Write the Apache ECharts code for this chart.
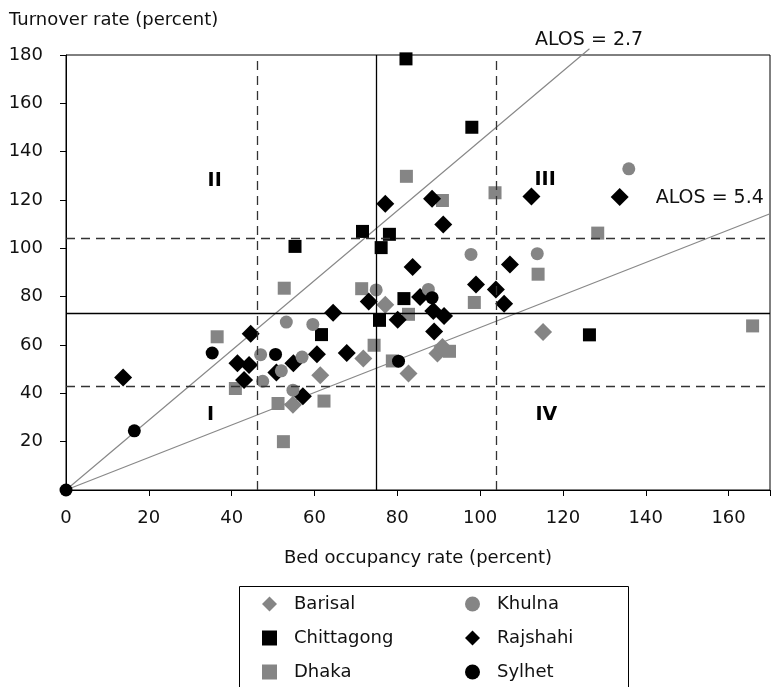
<!DOCTYPE html>
<html>
<head>
<meta charset="utf-8">
<script src="https://cdn.jsdelivr.net/npm/echarts@6/dist/echarts.min.js"></script>
<style>html,body{margin:0;padding:0;background:#fff}#c{width:773px;height:687px}</style>
</head>
<body>
<div id="c"></div>
<script>
// ---- data (bed occupancy %, turnover %) ----
const barisal = [[54.8,35.3],[61.4,47.5],[71.8,54.4],[77.1,76.7],[82.7,48.2],[89.7,56.5],[90.9,59.2],[115.2,65.4]];
const chittagong = [[55.3,100.8],[61.7,64.3],[71.6,107],[75.7,70.2],[76.1,100.3],[78.1,105.8],[81.6,79.2],[82.1,178.4],[98,150.1],[126.4,64.2]];
const dhaka = [[36.5,63.4],[40.9,42],[51.2,35.8],[52.5,20],[52.7,83.5],[62.3,36.8],[71.4,83.3],[74.4,59.9],[78.8,53.4],[82.2,129.8],[82.7,72.7],[90.9,119.8],[92.6,57.4],[98.6,77.6],[103.6,123],[114,89.3],[128.4,106.3],[165.8,67.9]];
const khulna = [[47,56],[47.5,45],[52,49.3],[53.2,69.5],[54.8,41.3],[57,55],[59.6,68.5],[74.9,82.8],[87.5,83],[97.8,97.5],[113.8,97.8],[135.9,132.9]];
const rajshahi = [[13.8,46.6],[41.4,52.4],[43,45.5],[44.2,51.7],[44.6,64.7],[50.8,48.6],[54.9,52.4],[57.2,38.8],[60.6,56.2],[64.5,73.3],[67.8,56.7],[73.1,78],[77.1,118.5],[80.1,70.5],[83.7,92.3],[85.5,79.9],[88.4,120.5],[88.7,74.1],[88.9,65.6],[91.1,109.9],[91.3,72],[99,85],[103.8,83],[105.8,77.1],[107.2,93.3],[112.4,121.5],[133.7,121.2]];
const sylhet = [[0,0],[16.5,24.5],[35.3,56.7],[50.6,56.1],[80.3,53.3],[88.4,79.6]];

// reference lines
const occupancyCuts = [46.3, 74.9, 103.8];   // dashed, solid, dashed
const turnoverCuts = [42.8, 73.3, 104.3];
const alos27 = [[0,0],[126.4,182.6]];
const alos54 = [[0,0],[170,114.3]];

const xTickLabels = [0,20,40,60,80,100,120,140,160];
const yTickLabels = [20,40,60,80,100,120,140,160,180];

const quadrantLabels = [['I',34.9,31],['II',35.9,128],['III',115.7,128.4],['IV',116,31]];
const alosLabels = [['ALOS = 2.7',126.3,186,'center'],['ALOS = 5.4',142.4,120.7,'left']];

const FONT = 'DejaVu Sans';
const GRAY = '#858585';
const TXT = '#111';

const chart = echarts.init(document.getElementById('c'));

function cutLine(v, axis, idx){
  const solid = idx === 1;
  const d = {};
  d[axis] = v;
  d.lineStyle = solid ? {color:'#000', width:1.3, type:'solid'} : {color:'#333', width:1.3, type:[9,6]};
  return d;
}

const markData = [];
occupancyCuts.forEach((v,i)=>markData.push(cutLine(v,'xAxis',i)));
turnoverCuts.forEach((v,i)=>markData.push(cutLine(v,'yAxis',i)));

function scat(name, data, symbol, size, color, z){
  return {name, type:'scatter', data, symbol, symbolSize:size, clip:false, z:z,
    itemStyle:{color, opacity:1}, emphasis:{disabled:true}};
}

const option = {
  animation:false,
  textStyle:{fontFamily:FONT},
  title:{text:'Turnover rate (percent)', left:4, top:6,
    textStyle:{fontSize:18, fontWeight:'normal', color:TXT, fontFamily:FONT}},
  grid:{left:66, top:55, width:706, height:435, show:true, borderColor:'#000', borderWidth:1},
  xAxis:{type:'value', min:0, max:170, interval:20,
    name:'Bed occupancy rate (percent)', nameLocation:'middle', nameGap:59,
    nameTextStyle:{fontSize:18, color:TXT, fontFamily:FONT},
    axisLine:{show:true, onZero:false, lineStyle:{color:'#000', width:1}},
    axisTick:{show:true, length:6, lineStyle:{color:'#000'}},
    axisLabel:{fontSize:18, color:TXT, margin:19, fontFamily:FONT,
      formatter:v=> xTickLabels.includes(v) ? String(v) : ''},
    splitLine:{show:false}},
  yAxis:{type:'value', min:0, max:180, interval:20,
    axisLine:{show:true, onZero:false, lineStyle:{color:'#000', width:1}},
    axisTick:{show:true, length:6, lineStyle:{color:'#000'}},
    axisLabel:{fontSize:18, color:TXT, margin:23, fontFamily:FONT,
      formatter:v=> yTickLabels.includes(v) ? String(v) : ''},
    splitLine:{show:false}},
  legend:{orient:'horizontal', left:262, top:594, width:420, itemGap:14, itemWidth:15, itemHeight:15,
    selectedMode:false, padding:0,
    textStyle:{fontSize:18, color:TXT, fontFamily:FONT, lineHeight:20, width:157, padding:[0,0,0,12]},
    data:[{name:'Barisal',icon:'diamond'},{name:'Khulna',icon:'circle'},
          {name:'Chittagong',icon:'rect'},{name:'Rajshahi',icon:'diamond'},
          {name:'Dhaka',icon:'rect'},{name:'Sylhet',icon:'circle'}]},
  series:[
    {name:'quadrants', type:'line', data:[], silent:true, z:1,
      markLine:{silent:true, symbol:['none','none'], label:{show:false}, animation:false, data:markData}},
    {name:'ALOS 2.7', type:'line', data:alos27, showSymbol:false, symbol:'none', clip:false, silent:true, z:2,
      lineStyle:{color:'#888', width:1.2}},
    {name:'ALOS 5.4', type:'line', data:alos54, showSymbol:false, symbol:'none', clip:false, silent:true, z:2,
      lineStyle:{color:'#888', width:1.2}},
    scat('Barisal', barisal, 'diamond', 18, GRAY, 3),
    scat('Chittagong', chittagong, 'rect', 13, '#000', 3),
    scat('Dhaka', dhaka, 'rect', 13, GRAY, 3),
    scat('Rajshahi', rajshahi, 'diamond', 18, '#000', 3),
    scat('Khulna', khulna, 'circle', 13, GRAY, 3),
    scat('Sylhet', sylhet, 'circle', 13, '#000', 3)
  ]
};
chart.setOption(option);

const gfx = [];
quadrantLabels.forEach(([t,x,y])=>{
  const p = chart.convertToPixel({gridIndex:0},[x,y]);
  gfx.push({type:'text', x:p[0], y:p[1], z:10, silent:true,
    style:{text:t, fill:'#000', font:'bold 19px "'+FONT+'"', textAlign:'center', textVerticalAlign:'middle'}});
});
alosLabels.forEach(([t,x,y,al])=>{
  const p = chart.convertToPixel({gridIndex:0},[x,y]);
  gfx.push({type:'text', x:p[0], y:p[1], z:10, silent:true,
    style:{text:t, fill:TXT, font:'19px "'+FONT+'"', textAlign:al, textVerticalAlign:'middle'}});
});
gfx.push({type:'rect', shape:{x:239.5, y:586.5, width:389, height:130}, z:0, silent:true,
  style:{fill:'none', stroke:'#000', lineWidth:1}});
chart.setOption({graphic:gfx});
</script>
</body>
</html>
